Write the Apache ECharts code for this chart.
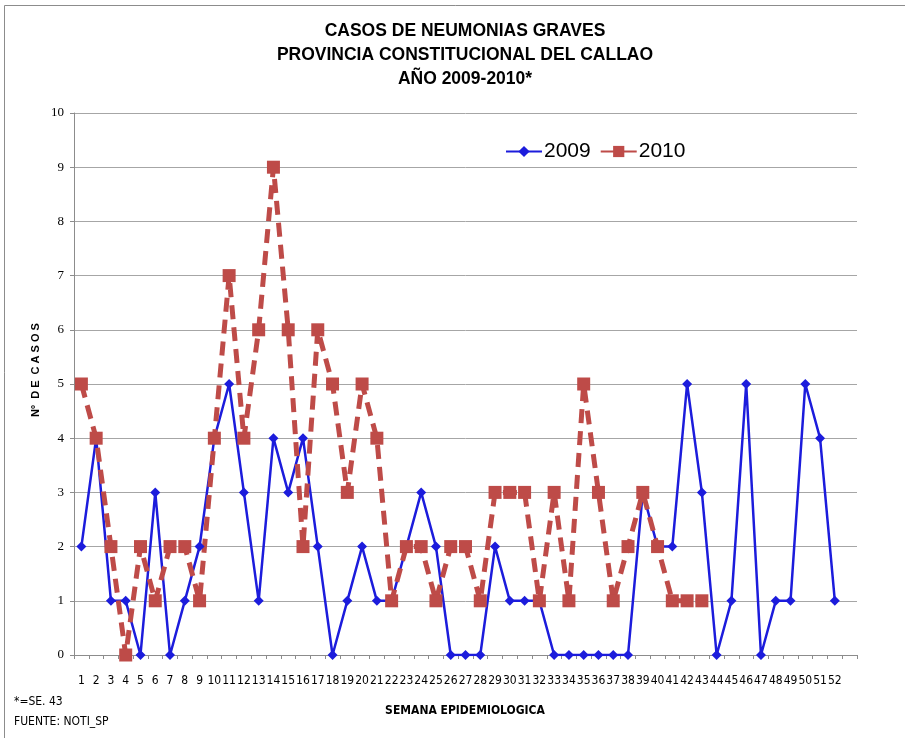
<!DOCTYPE html>
<html>
<head>
<meta charset="utf-8">
<script src="https://cdn.jsdelivr.net/npm/echarts@6/dist/echarts.min.js"></script>
<style>
  html, body { margin: 0; padding: 0; background: #fff; }
  #chart { width: 905px; height: 738px; }
</style>
</head>
<body>
<div id="chart"></div>
<script>
// semanas epidemiologicas (la ultima celda queda vacia, como en el original)
var weeks = ['1','2','3','4','5','6','7','8','9','10','11','12','13','14','15','16','17','18','19','20',
  '21','22','23','24','25','26','27','28','29','30','31','32','33','34','35','36','37','38','39','40',
  '41','42','43','44','45','46','47','48','49','50','51','52',''];

// casos 2009
var casos2009 = [2,4,1,1,0,3,0,1,2,4,5,3,1,4,3,4,2,0,1,2,
  1,1,2,3,2,0,0,0,2,1,1,1,0,0,0,0,0,0,3,2,
  2,5,3,0,1,5,0,1,1,5,4,1];

// casos 2010 (hasta SE 43)
var casos2010 = [5,4,2,0,2,1,2,2,1,4,7,4,6,9,6,2,6,5,3,5,
  4,1,2,2,1,2,2,1,3,3,3,1,3,1,5,3,1,2,3,2,
  1,1,1];

var titleLines = ['CASOS DE NEUMONIAS GRAVES', 'PROVINCIA CONSTITUCIONAL DEL CALLAO', 'AÑO 2009-2010*'];

var chart = echarts.init(document.getElementById('chart'));

var option = {
  backgroundColor: '#fff',
  animation: false,
  title: {
    text: titleLines.join('\n'),
    left: 460,
    textAlign: 'center',
    top: 14,
    textStyle: {
      fontFamily: 'Liberation Sans',
      fontSize: 17.5,
      fontWeight: 'bold',
      color: '#000',
      lineHeight: 24
    }
  },
  legend: {
    data: ['2009', '2010'],
    left: 505,
    top: 141,
    padding: 0,
    itemWidth: 36,
    itemHeight: 14,
    itemGap: 9,
    textStyle: { fontFamily: 'Liberation Sans', fontSize: 21, color: '#000', padding: [0, 0, 0, -3] }
  },
  grid: { left: 74, right: 48, top: 113, bottom: 83 },
  xAxis: {
    type: 'category',
    data: weeks,
    boundaryGap: true,
    axisLine: { lineStyle: { color: '#8c8c8c' } },
    axisTick: { show: true, length: 4, lineStyle: { color: '#8c8c8c' } },
    axisLabel: {
      interval: 0,
      margin: 20,
      fontFamily: 'Liberation Sans Narrow, DejaVu Sans Condensed, Liberation Sans',
      fontSize: 12,
      color: '#000'
    },
    splitLine: { show: false }
  },
  yAxis: {
    type: 'value',
    min: 0,
    max: 10,
    interval: 1,
    axisLine: { show: true, lineStyle: { color: '#8c8c8c' } },
    axisTick: { show: true, length: 4, lineStyle: { color: '#8c8c8c' } },
    axisLabel: { margin: 10, fontFamily: 'Liberation Serif', fontSize: 13, color: '#000' },
    splitLine: { lineStyle: { color: '#a6a6a6', width: 1 } }
  },
  series: [
    {
      name: '2009',
      type: 'line',
      data: casos2009,
      symbol: 'diamond',
      symbolSize: 10,
      itemStyle: { color: '#1c1cdc' },
      lineStyle: { color: '#1c1cdc', width: 2.5 }
    },
    {
      name: '2010',
      type: 'line',
      data: casos2010,
      symbol: 'rect',
      symbolSize: 13,
      itemStyle: { color: '#be4b48' },
      lineStyle: { color: '#be4b48', width: 5, type: [14, 8] }
    }
  ],
  graphic: [
    {
      type: 'rect',
      shape: { x: 4.5, y: 5.5, width: 1000, height: 1000 },
      style: { fill: 'none', stroke: '#8c8c8c', lineWidth: 1 },
      silent: true
    },
    {
      type: 'text',
      x: 36,
      y: 370,
      rotation: Math.PI / 2,
      style: {
        text: 'Nº  D E  C A S O S',
        fontFamily: 'Liberation Sans',
        fontSize: 11,
        fontWeight: 'bold',
        fill: '#000',
        align: 'center',
        verticalAlign: 'middle'
      }
    },
    {
      type: 'text',
      x: 465,
      y: 711,
      style: {
        text: 'SEMANA EPIDEMIOLOGICA',
        fontFamily: 'Liberation Sans Narrow, DejaVu Sans Condensed, Liberation Sans',
        fontSize: 12,
        fontWeight: 'bold',
        fill: '#000',
        align: 'center',
        verticalAlign: 'middle'
      }
    },
    {
      type: 'text',
      x: 14,
      y: 702,
      style: {
        text: '*=SE. 43',
        fontFamily: 'Liberation Sans Narrow, DejaVu Sans Condensed, Liberation Sans',
        fontSize: 12,
        fill: '#000',
        verticalAlign: 'middle'
      }
    },
    {
      type: 'text',
      x: 14,
      y: 722,
      style: {
        text: 'FUENTE: NOTI_SP',
        fontFamily: 'Liberation Sans Narrow, DejaVu Sans Condensed, Liberation Sans',
        fontSize: 12,
        fill: '#000',
        verticalAlign: 'middle'
      }
    }
  ]
};

chart.setOption(option);
</script>
</body>
</html>
